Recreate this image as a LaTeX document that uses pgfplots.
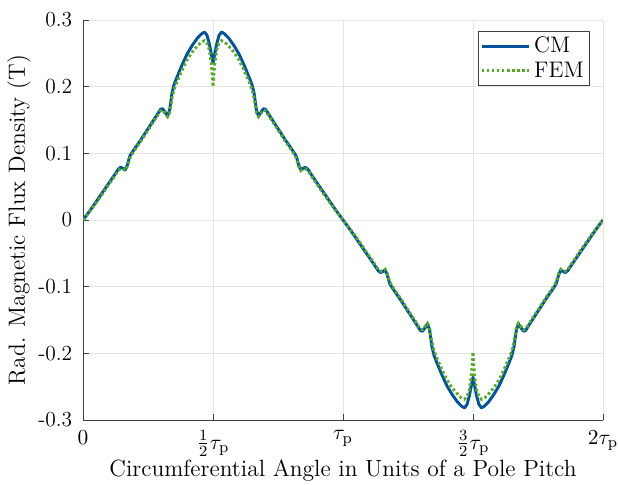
\documentclass[border=0pt]{standalone}
\usepackage{pgfplots}
\pgfplotsset{compat=1.18}
\definecolor{cmblue}{RGB}{0,84,159}
\definecolor{femgreen}{RGB}{87,171,39}

\begin{document}
\begin{tikzpicture}
\begin{axis}[
    scale only axis,
    width=266pt, height=204.6pt,
    xmin=0, xmax=2, ymin=-0.3, ymax=0.3,
    xtick={0,0.5,1,1.5,2},
    xticklabels={$0$, $\frac{1}{2}\tau_\mathrm{p}$, $\tau_\mathrm{p}$, $\frac{3}{2}\tau_\mathrm{p}$, $2\tau_\mathrm{p}$},
    ytick={-0.3,-0.2,-0.1,0,0.1,0.2,0.3},
    yticklabels={-0.3,-0.2,-0.1,0,0.1,0.2,0.3},
    ticklabel style={font=\fontsize{11}{13}\selectfont},
    yticklabel style={xshift=-2pt},
    xticklabel style={yshift=-2pt},
    axis x line*=bottom, axis y line*=left,
    axis line style={draw=black!75, -},
    tick align=inside, major tick length=3pt,
    tick style={black!75},
    grid=major, major grid style={black!10, line width=0.4pt},
    xlabel={Circumferential Angle in Units of a Pole Pitch},
    ylabel={Rad. Magnetic Flux Density (T)},
    label style={font=\fontsize{12}{14}\selectfont},
    xlabel style={yshift=5.5pt},
    ylabel style={yshift=-3pt},
    legend style={at={(0.975,0.973)}, anchor=north east, draw=black!75,
        font=\fontsize{11.5}{13.5}\selectfont, inner sep=1pt, row sep=-1pt},
    legend cell align=left,
    legend image code/.code={\draw[#1] (0cm,0cm) -- (0.85cm,0cm);},
]
% CM
\addplot[cmblue, line width=1.5pt, line join=round] coordinates {
(0,0) (0.03,0.016) (0.06,0.033) (0.09,0.050) (0.12,0.067) (0.135,0.076) (0.145,0.079) (0.155,0.077) (0.162,0.075) (0.170,0.082) (0.180,0.096) (0.195,0.105) (0.22,0.119) (0.25,0.137) (0.28,0.155) (0.298,0.166) (0.306,0.167) (0.315,0.162) (0.325,0.156) (0.333,0.165) (0.342,0.190) (0.35,0.203) (0.36,0.213) (0.38,0.232) (0.40,0.249) (0.42,0.262) (0.44,0.273) (0.455,0.279) (0.467,0.282) (0.477,0.277) (0.486,0.264) (0.493,0.250) (0.500,0.236) (0.507,0.250) (0.514,0.264) (0.523,0.277) (0.533,0.282) (0.545,0.279) (0.56,0.273) (0.58,0.262) (0.60,0.249) (0.62,0.232) (0.64,0.213) (0.65,0.203) (0.658,0.190) (0.667,0.165) (0.675,0.156) (0.685,0.162) (0.694,0.167) (0.702,0.166) (0.72,0.155) (0.75,0.137) (0.78,0.119) (0.805,0.105) (0.82,0.096) (0.83,0.082) (0.838,0.075) (0.845,0.077) (0.855,0.079) (0.865,0.076) (0.88,0.067) (0.91,0.050) (0.94,0.033) (0.97,0.016) (1.0,0)
(1.03,-0.016) (1.06,-0.033) (1.09,-0.050) (1.12,-0.067) (1.135,-0.076) (1.145,-0.079) (1.155,-0.077) (1.162,-0.075) (1.170,-0.082) (1.180,-0.096) (1.195,-0.105) (1.22,-0.119) (1.25,-0.137) (1.28,-0.155) (1.298,-0.166) (1.306,-0.167) (1.315,-0.162) (1.325,-0.156) (1.333,-0.165) (1.342,-0.190) (1.35,-0.203) (1.36,-0.213) (1.38,-0.232) (1.40,-0.249) (1.42,-0.262) (1.44,-0.273) (1.455,-0.279) (1.467,-0.282) (1.477,-0.277) (1.486,-0.264) (1.493,-0.250) (1.500,-0.236) (1.507,-0.250) (1.514,-0.264) (1.523,-0.277) (1.533,-0.282) (1.545,-0.279) (1.56,-0.273) (1.58,-0.262) (1.60,-0.249) (1.62,-0.232) (1.64,-0.213) (1.65,-0.203) (1.658,-0.190) (1.667,-0.165) (1.675,-0.156) (1.685,-0.162) (1.694,-0.167) (1.702,-0.166) (1.72,-0.155) (1.75,-0.137) (1.78,-0.119) (1.805,-0.105) (1.82,-0.096) (1.83,-0.082) (1.838,-0.075) (1.845,-0.077) (1.855,-0.079) (1.865,-0.076) (1.88,-0.067) (1.91,-0.050) (1.94,-0.033) (1.97,-0.016) (2.0,0)
};
% FEM
\addplot[femgreen, line width=1.5pt, dash pattern=on 1.3pt off 1.3pt] coordinates {
(0,0) (0.03,0.015) (0.06,0.031) (0.09,0.048) (0.12,0.065) (0.135,0.074) (0.145,0.077) (0.155,0.076) (0.162,0.074) (0.170,0.080) (0.180,0.093) (0.195,0.103) (0.22,0.117) (0.25,0.135) (0.28,0.153) (0.298,0.164) (0.306,0.165) (0.315,0.160) (0.325,0.155) (0.333,0.161) (0.342,0.183) (0.35,0.196) (0.36,0.206) (0.38,0.224) (0.40,0.240) (0.42,0.252) (0.44,0.261) (0.455,0.267) (0.467,0.269) (0.477,0.265) (0.486,0.255) (0.493,0.236) (0.497,0.218) (0.500,0.200) (0.503,0.218) (0.507,0.236) (0.514,0.255) (0.523,0.265) (0.533,0.269) (0.545,0.267) (0.56,0.261) (0.58,0.252) (0.60,0.240) (0.62,0.224) (0.64,0.206) (0.65,0.196) (0.658,0.183) (0.667,0.161) (0.675,0.155) (0.685,0.160) (0.694,0.165) (0.702,0.164) (0.72,0.153) (0.75,0.135) (0.78,0.117) (0.805,0.103) (0.82,0.093) (0.83,0.080) (0.838,0.074) (0.845,0.076) (0.855,0.077) (0.865,0.074) (0.88,0.065) (0.91,0.048) (0.94,0.031) (0.97,0.015) (1.0,0)
(1.03,-0.015) (1.06,-0.031) (1.09,-0.048) (1.12,-0.065) (1.135,-0.074) (1.145,-0.077) (1.155,-0.076) (1.162,-0.074) (1.170,-0.080) (1.180,-0.093) (1.195,-0.103) (1.22,-0.117) (1.25,-0.135) (1.28,-0.153) (1.298,-0.164) (1.306,-0.165) (1.315,-0.160) (1.325,-0.155) (1.333,-0.161) (1.342,-0.183) (1.35,-0.196) (1.36,-0.206) (1.38,-0.224) (1.40,-0.240) (1.42,-0.252) (1.44,-0.261) (1.455,-0.267) (1.467,-0.269) (1.477,-0.265) (1.486,-0.255) (1.493,-0.236) (1.497,-0.218) (1.500,-0.198) (1.503,-0.218) (1.507,-0.236) (1.514,-0.255) (1.523,-0.265) (1.533,-0.269) (1.545,-0.267) (1.56,-0.261) (1.58,-0.252) (1.60,-0.240) (1.62,-0.224) (1.64,-0.206) (1.65,-0.196) (1.658,-0.183) (1.667,-0.161) (1.675,-0.155) (1.685,-0.160) (1.694,-0.165) (1.702,-0.164) (1.72,-0.153) (1.75,-0.135) (1.78,-0.117) (1.805,-0.103) (1.82,-0.093) (1.83,-0.080) (1.838,-0.074) (1.845,-0.076) (1.855,-0.077) (1.865,-0.074) (1.88,-0.065) (1.91,-0.048) (1.94,-0.031) (1.97,-0.015) (2.0,0)
};
\legend{CM, FEM}
\end{axis}
\pgfresetboundingbox
\path (current axis.south west) ++(-42.5pt,-33.3pt) rectangle ([shift={(7.7pt,10.25pt)}]current axis.north east);
\end{tikzpicture}
\end{document}
